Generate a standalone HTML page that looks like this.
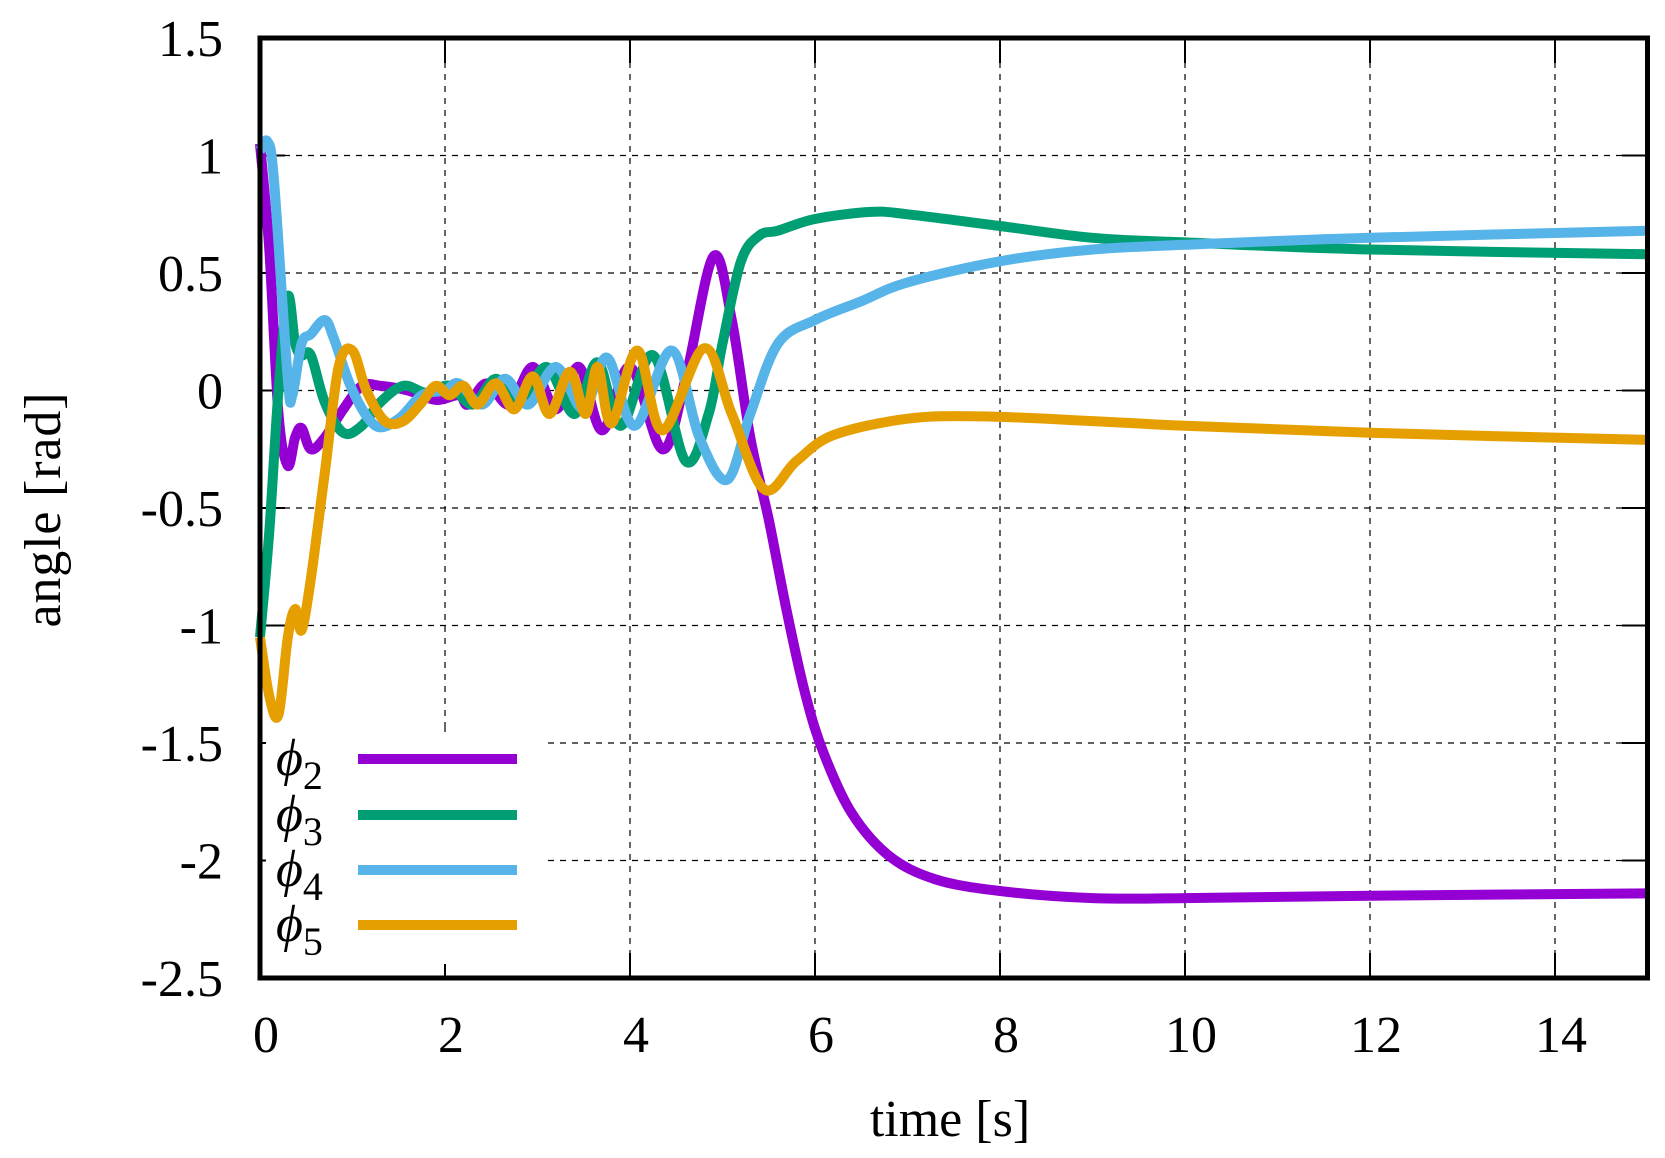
<!DOCTYPE html>
<html><head><meta charset="utf-8"><style>
html,body{margin:0;padding:0;background:#fff;}
svg{display:block;font-family:"Liberation Serif",serif;}
</style></head><body>
<svg id="s" width="1665" height="1158" viewBox="0 0 1665 1158" xmlns="http://www.w3.org/2000/svg">
<rect width="1665" height="1158" fill="#fff"/>
<g id="grid" stroke="#000" stroke-width="1.2" stroke-dasharray="6,6" fill="none"></g>
<g id="ticks" stroke="#000" stroke-width="2" fill="none"></g>
<g id="curves" fill="none" stroke-width="10" stroke-linejoin="round" stroke-linecap="butt"></g>
<rect x="266" y="728" width="280" height="236" fill="#fff"/>
<path d="M445 728 V732" stroke="#000" stroke-width="1.2"/>
<g stroke-width="10">
<line x1="358" y1="759" x2="517" y2="759" stroke="#9400d3"/>
<line x1="358" y1="815" x2="517" y2="815" stroke="#009e73"/>
<line x1="358" y1="870" x2="517" y2="870" stroke="#56b4e9"/>
<line x1="358" y1="925" x2="517" y2="925" stroke="#e69f00"/>
</g>
<g font-size="52" font-style="italic">
<text x="276" y="775">ϕ<tspan font-style="normal" font-size="40" dy="14">2</tspan></text>
<text x="276" y="831">ϕ<tspan font-style="normal" font-size="40" dy="14">3</tspan></text>
<text x="276" y="886">ϕ<tspan font-style="normal" font-size="40" dy="14">4</tspan></text>
<text x="276" y="941">ϕ<tspan font-style="normal" font-size="40" dy="14">5</tspan></text>
</g>
<rect x="260" y="38" width="1387.5" height="940" fill="none" stroke="#000" stroke-width="5"/>
<g id="labels" font-size="52" fill="#000"></g>
<text x="950" y="1136" font-size="52" text-anchor="middle">time [s]</text>
<text transform="translate(60,510) rotate(-90)" font-size="52" text-anchor="middle" textLength="235">angle [rad]</text>
</svg>
<script>
var X0=260,KX=92.5,Y0=390.5,KY=235;
function px(t){return X0+t*KX;} function py(v){return Y0-v*KY;}
var NS="http://www.w3.org/2000/svg";
function el(p,n,a,txt){var e=document.createElementNS(NS,n);for(var k in a)e.setAttribute(k,a[k]);if(txt!==undefined)e.textContent=txt;p.appendChild(e);return e;}
var g=document.getElementById('grid'),tk=document.getElementById('ticks'),lb=document.getElementById('labels');
for(var t=2;t<=14;t+=2){var x=px(t);
 if(t==2){el(g,'path',{d:'M'+x+' 38 V728'});}else el(g,'path',{d:'M'+x+' 38 V978'});
 el(tk,'path',{d:'M'+x+' 978 v-25 M'+x+' 38 v25'});}
for(var i=0;i<=8;i++){var v=1.5-i*0.5,y=py(v);
 if(i>0&&i<8){ if(v==-1.5||v==-2){el(g,'path',{d:'M548 '+y+' H1647'});} else el(g,'path',{d:'M260 '+y+' H1647'});}
 el(tk,'path',{d:'M260 '+y+' h25 M1647 '+y+' h-25'});
 el(lb,'text',{x:223,y:y+18,'text-anchor':'end'},String(v));}
for(var t=0;t<=14;t+=2){el(lb,'text',{x:px(t)+6,y:1052,'text-anchor':'middle'},String(t));}
var S={
'#9400d3':[[0,1.05],[0.1,0.6],[0.2,-0.1],[0.3,-0.32],[0.38,-0.2],[0.45,-0.16],[0.55,-0.25],[0.7,-0.2],[0.9,-0.08],[1.1,0.02],[1.3,0.02],[1.6,0],[1.9,-0.04],[2.15,-0.02],[2.25,-0.06],[2.45,0.03],[2.7,-0.06],[2.95,0.1],[3.2,-0.08],[3.45,0.1],[3.7,-0.17],[4.0,0.1],[4.35,-0.25],[4.6,0.05],[4.9,0.57],[5.1,0.3],[5.3,-0.2],[5.5,-0.55],[5.7,-0.95],[5.9,-1.3],[6.1,-1.55],[6.4,-1.8],[6.8,-1.98],[7.3,-2.08],[8,-2.13],[9,-2.16],[10,-2.16],[12,-2.15],[15,-2.14]],
'#009e73':[[0,-1.05],[0.1,-0.6],[0.2,0.0],[0.3,0.4],[0.38,0.2],[0.45,0.15],[0.55,0.15],[0.7,-0.05],[0.9,-0.18],[1.1,-0.15],[1.3,-0.05],[1.55,0.02],[1.8,-0.01],[2.05,0.02],[2.3,-0.06],[2.55,0.05],[2.8,-0.05],[3.1,0.1],[3.4,-0.1],[3.65,0.12],[3.9,-0.15],[4.25,0.15],[4.6,-0.3],[4.85,-0.1],[5.0,0.2],[5.2,0.55],[5.4,0.66],[5.6,0.68],[6,0.73],[6.6,0.76],[7,0.75],[8,0.7],[9,0.65],[10,0.63],[12,0.6],[15,0.58]],
'#56b4e9':[[0,1.02],[0.08,1.06],[0.15,0.9],[0.3,0.05],[0.35,-0.02],[0.45,0.2],[0.55,0.24],[0.7,0.3],[0.8,0.22],[1.0,0.0],[1.25,-0.15],[1.5,-0.12],[1.75,-0.02],[2.0,0.0],[2.15,0.03],[2.4,-0.06],[2.65,0.05],[2.9,-0.06],[3.2,0.1],[3.5,-0.08],[3.75,0.14],[4.05,-0.15],[4.45,0.17],[4.75,-0.2],[5.05,-0.38],[5.3,-0.1],[5.6,0.2],[6,0.3],[6.5,0.38],[7,0.46],[8,0.55],[9,0.6],[10,0.62],[12,0.65],[15,0.68]],
'#e69f00':[[0,-1.05],[0.1,-1.3],[0.2,-1.38],[0.3,-1.05],[0.38,-0.93],[0.45,-1.02],[0.55,-0.8],[0.7,-0.35],[0.85,0.1],[1.0,0.17],[1.15,0.0],[1.35,-0.13],[1.55,-0.13],[1.75,-0.05],[1.9,0.02],[2.05,-0.02],[2.2,0.02],[2.35,-0.06],[2.55,0.03],[2.75,-0.08],[2.95,0.06],[3.13,-0.1],[3.35,0.08],[3.52,-0.1],[3.65,0.1],[3.8,-0.14],[4.08,0.17],[4.35,-0.17],[4.8,0.18],[5.1,-0.1],[5.45,-0.42],[5.8,-0.3],[6.2,-0.19],[7,-0.12],[7.8,-0.11],[9,-0.13],[10,-0.15],[12,-0.18],[15,-0.21]]
};
var c=document.getElementById('curves');
for(var col in S){var p=S[col].map(function(q){return [px(q[0]),py(q[1])];});
 var d='M'+p[0][0].toFixed(1)+' '+p[0][1].toFixed(1);
 for(var i=0;i<p.length-1;i++){var a=p[Math.max(0,i-1)],b=p[i],e=p[i+1],f=p[Math.min(p.length-1,i+2)];
  var c1=[b[0]+(e[0]-a[0])/6,b[1]+(e[1]-a[1])/6],c2=[e[0]-(f[0]-b[0])/6,e[1]-(f[1]-b[1])/6];
  d+=' C'+c1[0].toFixed(1)+' '+c1[1].toFixed(1)+' '+c2[0].toFixed(1)+' '+c2[1].toFixed(1)+' '+e[0].toFixed(1)+' '+e[1].toFixed(1);}
 el(c,'path',{d:d,stroke:col});}
</script>
</body></html>
